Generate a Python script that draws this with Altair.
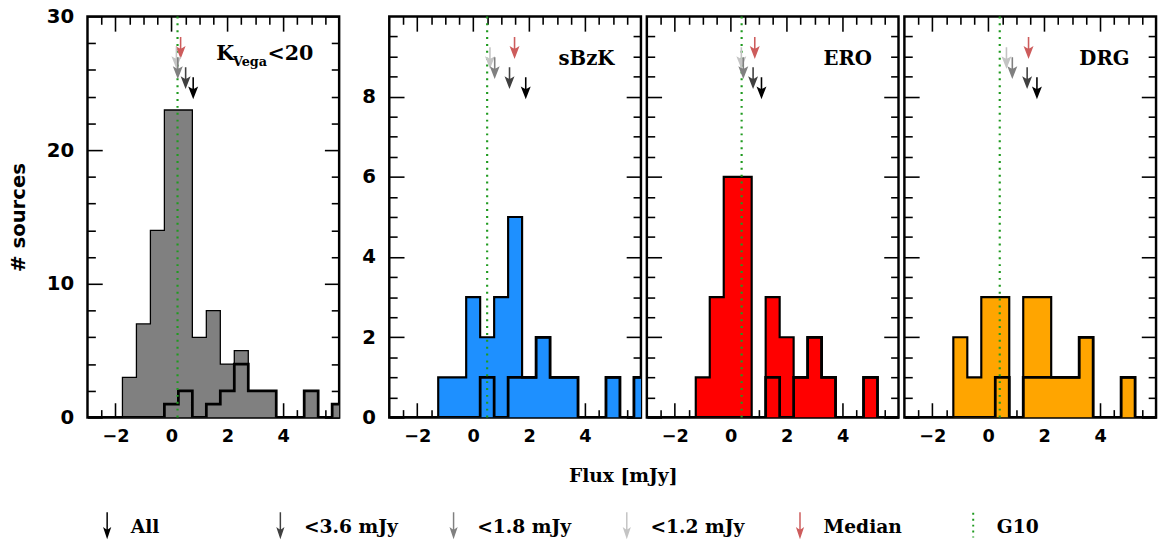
import altair as alt
import pandas as pd

# ---------------- data ----------------
CENTERS = [-3.0, -2.5, -2.0, -1.5, -1.0, -0.5, 0.0, 0.5, 1.0, 1.5,
           2.0, 2.5, 3.0, 3.5, 4.0, 4.5, 5.0, 5.5, 6.0]

K20_ALL = [0, 0, 0, 3, 7, 14, 23, 23, 6, 8, 4, 5, 2, 2, 0, 0, 2, 0, 1]
K20_SUB = [0, 0, 0, 0, 0, 0, 1, 2, 0, 1, 2, 4, 2, 2, 0, 0, 2, 0, 1]
SBZK_ALL = [0, 0, 0, 0, 1, 1, 3, 2, 3, 5, 1, 2, 1, 1, 0, 0, 1, 0, 1]
SBZK_SUB = [0, 0, 0, 0, 0, 0, 0, 1, 0, 1, 1, 2, 1, 1, 0, 0, 1, 0, 1]
ERO_ALL = [0, 0, 0, 0, 1, 3, 6, 6, 0, 3, 2, 1, 2, 1, 0, 0, 1, 0, 0]
ERO_SUB = [0, 0, 0, 0, 0, 0, 0, 0, 0, 1, 0, 1, 2, 1, 0, 0, 1, 0, 0]
DRG_ALL = [0, 0, 0, 0, 2, 1, 3, 3, 0, 3, 3, 1, 1, 2, 0, 0, 1, 0, 0]
DRG_SUB = [0, 0, 0, 0, 0, 0, 0, 1, 0, 1, 1, 1, 1, 2, 0, 0, 1, 0, 0]

G10 = [0.22, 0.50, 0.39, 0.41]

ARROW_KINDS = ["Median", "<1.2 mJy", "<1.8 mJy", "<3.6 mJy", "All"]
ARROW_ROW = [0, 1, 2, 3, 4]
ARROWS_K20 = [0.33, 0.18, 0.23, 0.51, 0.78]
ARROWS_SBZK = [1.48, 0.60, 0.77, 1.30, 1.88]
ARROWS_ERO = [0.86, 0.38, 0.45, 0.80, 1.10]
ARROWS_DRG = [1.44, 0.65, 0.86, 1.39, 1.74]

LEGEND_ITEMS = ["All", "<3.6 mJy", "<1.8 mJy", "<1.2 mJy", "Median", "G10"]
LEGEND_SLOT = [0, 1, 2, 3, 4, 5]

X_LABELS = [-2, 0, 2, 4]
X_MINOR = [-2.5, -1.5, -1.0, -0.5, 0.5, 1.0, 1.5,
           2.5, 3.0, 3.5, 4.5, 5.0, 5.5]
Y1_LABELS = [0, 10, 20, 30]
Y1_MINOR = [2, 4, 6, 8, 12, 14, 16, 18, 22, 24, 26, 28]
Y2_LABELS = [0, 2, 4, 6, 8]
Y2_MINOR = [0.5, 1, 1.5, 2.5, 3, 3.5, 4.5, 5, 5.5, 6.5, 7, 7.5,
            8.5, 9, 9.5]

# ---------------- style ----------------
SANS = "DejaVu Sans"
SERIF = "DejaVu Serif"
GREEN = "#1f9a1f"
ARROW_COLORS = {"All": "#000000", "<3.6 mJy": "#404040", "<1.8 mJy": "#808080",
                "<1.2 mJy": "#c4c4c4", "Median": "#cd5c5c"}
ARROW_PATH = "M0,-1L0,0.3M0,1L-0.35,0.1L0,0.3L0.35,0.1Z"
LEG_ARROW_PATH = "M0,-1L0,0.5M0,1L-0.22,0.35L0,0.5L0.22,0.35Z"

W, H = 256, 408
XMIN, XMAX = -3, 6
MINOR_LEN, MAJOR_LEN = 8, 15

arrow_scale = alt.Scale(domain=ARROW_KINDS, range=[ARROW_COLORS[k] for k in ARROW_KINDS])


def step_frame(counts):
    edges = [c - 0.25 for c in CENTERS] + [CENTERS[-1] + 0.25]
    return pd.DataFrame({"edge": edges, "n": list(counts) + [0]})


def tick_axis(orient, values, length, labels=False, label_size=18, pad=10,
              title=None):
    kw = dict(orient=orient, values=values, domain=False, grid=False, ticks=True,
              tickSize=length, offset=-length, tickColor="black", tickOpacity=1,
              tickWidth=1.6, labels=labels, title=title)
    if labels:
        kw.update(labelFont=SANS, labelFontSize=label_size, labelFontWeight="bold",
                  labelPadding=pad, labelColor="black", format="d")
    if title:
        kw.update(titleFont=SANS, titleFontSize=20, titleFontWeight="bold",
                  titlePadding=18, titleColor="black")
    return alt.Axis(**kw)


def panel(all_counts, sub_counts, fill, outline_w, g10, arrows, ymax,
          y_labels, y_minor, show_ylabels, y_title, labels):
    xs = alt.Scale(domain=[XMIN, XMAX], nice=False, zero=False)
    ys = alt.Scale(domain=[0, ymax], nice=False, zero=True)
    hist = step_frame(all_counts)
    sub = step_frame(sub_counts)
    area = alt.Chart(hist).mark_area(
        interpolate="step-after", color=fill, opacity=1, clip=True
    ).encode(
        x=alt.X("edge:Q", scale=xs,
                axis=tick_axis("bottom", X_LABELS, MAJOR_LEN, labels=True, pad=10)),
        y=alt.Y("n:Q", scale=ys,
                axis=tick_axis("left", y_labels, MAJOR_LEN, labels=show_ylabels,
                               label_size=20, pad=14, title=y_title)))
    outline = alt.Chart(hist).mark_line(
        interpolate="step-after", color="black", strokeWidth=outline_w, clip=True
    ).encode(x=alt.X("edge:Q", axis=tick_axis("bottom", X_MINOR, MINOR_LEN)),
             y=alt.Y("n:Q", axis=tick_axis("left", y_minor, MINOR_LEN)))
    subline = alt.Chart(sub).mark_line(
        interpolate="step-after", color="black", strokeWidth=2.8, clip=True
    ).encode(x=alt.X("edge:Q", axis=tick_axis("top", X_LABELS, MAJOR_LEN)),
             y=alt.Y("n:Q", axis=tick_axis("right", y_labels, MAJOR_LEN)))
    g10rule = alt.Chart(pd.DataFrame({"g": [g10]})).mark_rule(
        color=GREEN, strokeDash=[2, 5], strokeWidth=2.2
    ).encode(x=alt.X("g:Q", axis=tick_axis("top", X_MINOR, MINOR_LEN)),
             y=alt.YDatum(0, type="quantitative",
                          axis=tick_axis("right", y_minor, MINOR_LEN)),
             y2=alt.Y2Datum(ymax))
    base = alt.layer(area, outline, subline, g10rule, *labels).resolve_axis(
        x="independent", y="independent")
    arr = pd.DataFrame({"kind": ARROW_KINDS, "row": ARROW_ROW, "x": arrows})
    arrow_layer = alt.Chart(arr).mark_point(
        shape=ARROW_PATH, size=400, filled=True, strokeWidth=1.6, opacity=1
    ).encode(
        x=alt.X("x:Q", axis=None),
        y=alt.Y("row:Q", scale=alt.Scale(domain=[0, 4], range=[31, 72]), axis=None),
        fill=alt.Fill("kind:N", scale=arrow_scale, legend=None),
        stroke=alt.Stroke("kind:N", scale=arrow_scale, legend=None),
    )
    return alt.layer(base, arrow_layer).resolve_scale(y="independent").resolve_axis(
        x="independent", y="independent").properties(width=W, height=H)


def text_at(t, x, y, size, align="left", font=SERIF, weight="bold"):
    return alt.Chart(pd.DataFrame({"t": [t]})).mark_text(
        align=align, baseline="alphabetic", font=font, fontSize=size,
        fontWeight=weight, color="black"
    ).encode(text="t:N", x=alt.value(x), y=alt.value(y))


p1 = panel(K20_ALL, K20_SUB, "#808080", 1.3, G10[0], ARROWS_K20, 30,
           Y1_LABELS, Y1_MINOR, True, "# sources",
           [text_at("K", 131, 44, 21), text_at("Vega", 148, 50, 13),
            text_at("<20", 183, 44, 21)])
p2 = panel(SBZK_ALL, SBZK_SUB, "#1e90ff", 2.2, G10[1], ARROWS_SBZK, 10,
           Y2_LABELS, Y2_MINOR, True, None,
           [text_at("sBzK", 229, 49, 20, "right")])
p3 = panel(ERO_ALL, ERO_SUB, "#ff0000", 2.2, G10[2], ARROWS_ERO, 10,
           Y2_LABELS, Y2_MINOR, False, None,
           [text_at("ERO", 229, 49, 20, "right")])
p4 = panel(DRG_ALL, DRG_SUB, "#ffa500", 2.2, G10[3], ARROWS_DRG, 10,
           Y2_LABELS, Y2_MINOR, False, None,
           [text_at("DRG", 229, 49, 20, "right")])

# ---------------- legend row ----------------
legx = alt.Scale(domain=[0, 5], range=[20, 901])
leg_df = pd.DataFrame({"kind": LEGEND_ITEMS, "slot": LEGEND_SLOT})
leg_arrows = alt.Chart(leg_df.iloc[:5]).mark_point(
    shape=LEG_ARROW_PATH, size=625, filled=True, strokeWidth=1.5, opacity=1
).encode(
    x=alt.X("slot:Q", scale=legx, axis=None),
    y=alt.value(79),
    fill=alt.Fill("kind:N", scale=arrow_scale, legend=None),
    stroke=alt.Stroke("kind:N", scale=arrow_scale, legend=None),
)
leg_text = alt.Chart(leg_df).mark_text(
    align="left", baseline="middle", dx=24, font=SERIF, fontSize=19,
    fontWeight="bold", color="black"
).encode(x=alt.X("slot:Q", scale=legx, axis=None), y=alt.value(81), text="kind:N")
leg_g10 = alt.Chart(leg_df.iloc[5:]).mark_rule(
    color=GREEN, strokeDash=[2, 4], strokeWidth=2
).encode(x=alt.X("slot:Q", scale=legx, axis=None), y=alt.value(67), y2=alt.value(92))
flux = text_at("Flux [mJy]", 545, 36, 19, "center", SERIF)

legend = alt.layer(flux, leg_arrows, leg_text, leg_g10).properties(
    width=1071, height=92,
    view=alt.ViewBackground(stroke="transparent", strokeWidth=0))

right = alt.hconcat(p2, p3, p4, spacing=0).resolve_scale(
    x="independent", y="independent")
top = alt.hconcat(p1, right, spacing=18).resolve_scale(
    x="independent", y="independent")
chart = alt.vconcat(top, legend, spacing=0).resolve_scale(
    x="independent", y="independent"
).properties(
    padding={"left": 7, "top": 0, "right": 0, "bottom": 0},
    background="white",
).configure_view(stroke="black", strokeWidth=2.5)

chart.save("out.html", embed_options={"renderer": "svg", "actions": False})
